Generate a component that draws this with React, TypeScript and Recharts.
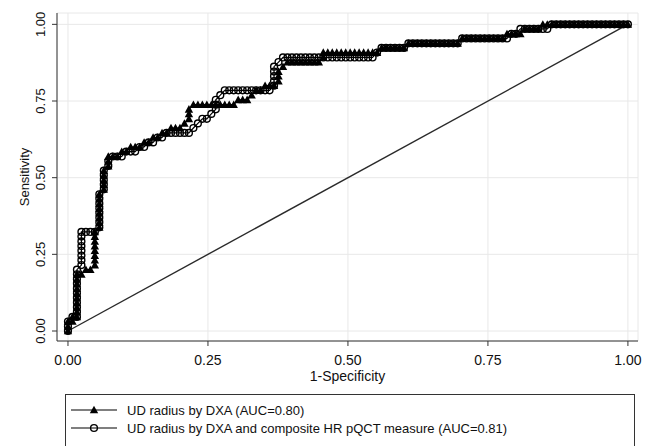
import React from "react";
import {
  ComposedChart,
  Scatter,
  XAxis,
  YAxis,
  CartesianGrid,
  ReferenceLine,
} from "recharts";

const FONT = '"Liberation Sans", Arial, Helvetica, sans-serif';

const xTicks = [0, 0.25, 0.5, 0.75, 1];
const yTicks = [0, 0.25, 0.5, 0.75, 1];
const xTitle = "1-Specificity";
const yTitle = "Sensitivity";
const legendLabels = [
  "UD radius by DXA (AUC=0.80)",
  "UD radius by DXA and composite HR pQCT measure (AUC=0.81)",
];
const diagonalPoints = [
  { x: 0, y: 0 },
  { x: 1, y: 1 },
];

// ROC: UD radius by DXA (triangles) — [1-specificity, sensitivity]
const dxaRoc: [number, number][] = [
  [0, 0], [0, 0.015], [0, 0.031], [0.008, 0.031], [0.008, 0.046], [0.016, 0.046],
  [0.016, 0.062], [0.016, 0.077], [0.016, 0.092], [0.016, 0.108], [0.016, 0.123], [0.016, 0.138], [0.016, 0.154], [0.016, 0.169], [0.016, 0.185],
  [0.024, 0.185], [0.032, 0.2], [0.04, 0.2],
  [0.048, 0.215], [0.048, 0.231], [0.048, 0.246], [0.048, 0.262], [0.048, 0.277], [0.048, 0.292], [0.048, 0.308], [0.048, 0.323],
  [0.056, 0.338], [0.056, 0.354], [0.056, 0.369], [0.056, 0.385], [0.056, 0.4], [0.056, 0.415], [0.056, 0.431], [0.056, 0.446],
  [0.064, 0.462], [0.064, 0.477], [0.064, 0.492], [0.064, 0.508], [0.064, 0.523],
  [0.072, 0.538], [0.072, 0.554], [0.072, 0.569],
  [0.08, 0.569], [0.088, 0.569], [0.096, 0.585], [0.104, 0.585], [0.112, 0.6], [0.12, 0.6], [0.128, 0.6], [0.136, 0.615], [0.144, 0.615],
  [0.152, 0.631], [0.16, 0.631], [0.168, 0.646], [0.176, 0.646], [0.184, 0.662], [0.192, 0.662], [0.2, 0.662], [0.208, 0.677],
  [0.216, 0.692], [0.216, 0.708], [0.216, 0.723], [0.224, 0.738],
  [0.232, 0.738], [0.24, 0.738], [0.248, 0.738], [0.256, 0.738], [0.264, 0.738], [0.272, 0.738], [0.28, 0.738], [0.288, 0.738], [0.296, 0.738],
  [0.304, 0.754], [0.312, 0.754], [0.32, 0.754], [0.328, 0.769], [0.336, 0.785], [0.344, 0.785], [0.352, 0.8], [0.36, 0.8], [0.368, 0.8],
  [0.376, 0.815], [0.376, 0.831], [0.376, 0.846], [0.384, 0.862], [0.392, 0.877],
  [0.4, 0.877], [0.408, 0.877], [0.416, 0.877], [0.424, 0.877], [0.432, 0.877], [0.44, 0.877], [0.448, 0.877],
  [0.456, 0.892], [0.456, 0.908], [0.464, 0.908], [0.472, 0.908], [0.48, 0.908], [0.488, 0.908], [0.496, 0.908], [0.504, 0.908],
  [0.512, 0.908], [0.52, 0.908], [0.528, 0.908], [0.536, 0.908], [0.544, 0.908], [0.552, 0.908],
  [0.56, 0.923], [0.568, 0.923], [0.576, 0.923], [0.584, 0.923], [0.592, 0.923], [0.6, 0.923],
  [0.608, 0.938], [0.616, 0.938], [0.624, 0.938], [0.632, 0.938], [0.64, 0.938], [0.648, 0.938], [0.656, 0.938], [0.664, 0.938],
  [0.672, 0.938], [0.68, 0.938], [0.688, 0.938], [0.696, 0.938],
  [0.704, 0.954], [0.712, 0.954], [0.72, 0.954], [0.728, 0.954], [0.736, 0.954], [0.744, 0.954], [0.752, 0.954], [0.76, 0.954],
  [0.768, 0.954], [0.776, 0.954],
  [0.784, 0.969], [0.792, 0.969], [0.8, 0.969], [0.808, 0.969],
  [0.816, 0.985], [0.824, 0.985], [0.832, 0.985], [0.84, 0.985],
  [0.848, 1], [0.856, 1], [0.864, 1], [0.872, 1], [0.88, 1], [0.888, 1], [0.896, 1], [0.904, 1], [0.912, 1], [0.92, 1],
  [0.928, 1], [0.936, 1], [0.944, 1], [0.952, 1], [0.96, 1], [0.968, 1], [0.976, 1], [0.984, 1], [0.992, 1], [1, 1],
];

// ROC: UD radius by DXA + composite HR pQCT (circles)
const comboRoc: [number, number][] = [
  [0, 0], [0, 0.015], [0, 0.031], [0.008, 0.046], [0.016, 0.046],
  [0.016, 0.062], [0.016, 0.077], [0.016, 0.092], [0.016, 0.108], [0.016, 0.123], [0.016, 0.138], [0.016, 0.154], [0.016, 0.169], [0.016, 0.185], [0.016, 0.2],
  [0.024, 0.215], [0.024, 0.231], [0.024, 0.246], [0.024, 0.262], [0.024, 0.277], [0.024, 0.292], [0.024, 0.308], [0.024, 0.323],
  [0.032, 0.323], [0.04, 0.323], [0.048, 0.323],
  [0.056, 0.338], [0.056, 0.354], [0.056, 0.369], [0.056, 0.385], [0.056, 0.4], [0.056, 0.415], [0.056, 0.431], [0.056, 0.446],
  [0.064, 0.462], [0.064, 0.477], [0.064, 0.492], [0.064, 0.508], [0.064, 0.523],
  [0.072, 0.538], [0.072, 0.554], [0.08, 0.569], [0.088, 0.569], [0.096, 0.569],
  [0.104, 0.585], [0.112, 0.585], [0.12, 0.585], [0.128, 0.6], [0.136, 0.6], [0.144, 0.615], [0.152, 0.615], [0.16, 0.631], [0.168, 0.631],
  [0.176, 0.646], [0.184, 0.646], [0.192, 0.646], [0.2, 0.646], [0.208, 0.646], [0.216, 0.646],
  [0.224, 0.662], [0.232, 0.677], [0.24, 0.692], [0.248, 0.692], [0.256, 0.708], [0.264, 0.723], [0.264, 0.738], [0.264, 0.754], [0.272, 0.769],
  [0.28, 0.785], [0.288, 0.785], [0.296, 0.785], [0.304, 0.785], [0.312, 0.785], [0.32, 0.785], [0.328, 0.785], [0.336, 0.785],
  [0.344, 0.785], [0.352, 0.785], [0.36, 0.785],
  [0.368, 0.8], [0.368, 0.815], [0.368, 0.831], [0.368, 0.846], [0.368, 0.862], [0.376, 0.877], [0.384, 0.892],
  [0.392, 0.892], [0.4, 0.892], [0.408, 0.892], [0.416, 0.892], [0.424, 0.892], [0.432, 0.892], [0.44, 0.892], [0.448, 0.892],
  [0.456, 0.892], [0.464, 0.892], [0.472, 0.892], [0.48, 0.892], [0.488, 0.892], [0.496, 0.892], [0.504, 0.892], [0.512, 0.892],
  [0.52, 0.892], [0.528, 0.892], [0.536, 0.892], [0.544, 0.892],
  [0.552, 0.908], [0.56, 0.923], [0.568, 0.923], [0.576, 0.923], [0.584, 0.923], [0.592, 0.923], [0.6, 0.923],
  [0.608, 0.938], [0.616, 0.938], [0.624, 0.938], [0.632, 0.938], [0.64, 0.938], [0.648, 0.938], [0.656, 0.938], [0.664, 0.938],
  [0.672, 0.938], [0.68, 0.938], [0.688, 0.938], [0.696, 0.938],
  [0.704, 0.954], [0.712, 0.954], [0.72, 0.954], [0.728, 0.954], [0.736, 0.954], [0.744, 0.954], [0.752, 0.954], [0.76, 0.954],
  [0.768, 0.954], [0.776, 0.954], [0.784, 0.954],
  [0.792, 0.969], [0.8, 0.969],
  [0.808, 0.985], [0.816, 0.985], [0.824, 0.985], [0.832, 0.985], [0.84, 0.985], [0.848, 0.985], [0.856, 0.985],
  [0.864, 1], [0.872, 1], [0.88, 1], [0.888, 1], [0.896, 1], [0.904, 1], [0.912, 1], [0.92, 1], [0.928, 1], [0.936, 1],
  [0.944, 1], [0.952, 1], [0.96, 1], [0.968, 1], [0.976, 1], [0.984, 1], [0.992, 1], [1, 1],
];

const toPoints = (rows: [number, number][]) => rows.map(([x, y]) => ({ x, y }));

const AXIS = "#333";
const INK = "#111";

function TriangleMark({ cx, cy }: { cx?: number; cy?: number }) {
  if (cx == null || cy == null) return null;
  const s = 4.2;
  return (
    <path
      d={`M${cx},${cy - s} L${cx + s},${cy + s * 0.8} L${cx - s},${cy + s * 0.8} Z`}
      fill="#000"
    />
  );
}

function CircleMark({ cx, cy }: { cx?: number; cy?: number }) {
  if (cx == null || cy == null) return null;
  return <circle cx={cx} cy={cy} r={3.4} fill="none" stroke="#000" strokeWidth={1.4} />;
}

function XTick({ x, y, payload }: any) {
  return (
    <text x={x} y={y + 17} textAnchor="middle" fontSize={14} fontFamily={FONT} fill={INK}>
      {Number(payload.value).toFixed(2)}
    </text>
  );
}

function YTick({ x, y, payload }: any) {
  const bx = x - 5;
  return (
    <text
      x={bx}
      y={y}
      transform={`rotate(-90 ${bx} ${y})`}
      textAnchor="middle"
      fontSize={13}
      fontFamily={FONT}
      fill={INK}
    >
      {Number(payload.value).toFixed(2)}
    </text>
  );
}

function LegendRow({ label, mark, top }: { label: string; mark: "tri" | "circ"; top: number }) {
  return (
    <div style={{ position: "absolute", left: 0, top, height: 18, display: "flex", alignItems: "center" }}>
      <svg width={60} height={18} style={{ display: "block" }}>
        <line x1={5} y1={9} x2={51} y2={9} stroke="#000" strokeWidth={1.2} />
        {mark === "tri" ? <TriangleMark cx={28} cy={9} /> : <CircleMark cx={28} cy={9} />}
      </svg>
      <span style={{ fontSize: 13, color: INK, whiteSpace: "nowrap", marginLeft: 1 }}>{label}</span>
    </div>
  );
}

export default function App() {
  const dxa = toPoints(dxaRoc);
  const combo = toPoints(comboRoc);

  return (
    <div
      style={{
        position: "absolute",
        left: 0,
        top: 0,
        width: 646,
        height: 446,
        overflow: "hidden",
        background: "#fff",
        fontFamily: FONT,
      }}
    >
      <ComposedChart width={646} height={446} margin={{ top: 13, right: 8, bottom: 0, left: 0 }}>
        <CartesianGrid stroke="#e8e8e8" strokeWidth={1} />
        <XAxis
          type="number"
          dataKey="x"
          domain={[-0.0196, 1.018]}
          ticks={xTicks}
          allowDataOverflow
          height={105}
          tick={<XTick />}
          tickSize={5}
          tickLine={{ stroke: AXIS }}
          axisLine={{ stroke: AXIS }}
          label={{
            value: xTitle,
            position: "insideTop",
            offset: 30,
            style: { fontSize: 14, fill: INK, fontFamily: FONT },
          }}
        />
        <YAxis
          type="number"
          dataKey="y"
          domain={[-0.0326, 1.037]}
          ticks={yTicks}
          allowDataOverflow
          width={57}
          tick={<YTick />}
          tickSize={5}
          tickLine={{ stroke: AXIS }}
          axisLine={{ stroke: AXIS }}
          label={{
            value: yTitle,
            angle: -90,
            position: "insideLeft",
            offset: 24,
            style: { fontSize: 13, fill: INK, fontFamily: FONT, textAnchor: "middle" },
          }}
        />
        <ReferenceLine
          segment={diagonalPoints}
          stroke="#2a2a2a"
          strokeWidth={1.4}
          ifOverflow="visible"
        />
        <Scatter
          data={dxa}
          line={{ stroke: "#000", strokeWidth: 1.2 }}
          lineType="joint"
          shape={(p: any) => <TriangleMark cx={p.cx} cy={p.cy} />}
          isAnimationActive={false}
        />
        <Scatter
          data={combo}
          line={{ stroke: "#000", strokeWidth: 1.2 }}
          lineType="joint"
          shape={(p: any) => <CircleMark cx={p.cx} cy={p.cy} />}
          isAnimationActive={false}
        />
      </ComposedChart>
      <div
        style={{
          position: "absolute",
          left: 65,
          top: 394,
          width: 570,
          height: 80,
          border: `1px solid ${AXIS}`,
          boxSizing: "border-box",
        }}
      >
        <LegendRow label={legendLabels[0]} mark="tri" top={6} />
        <LegendRow label={legendLabels[1]} mark="circ" top={24} />
      </div>
    </div>
  );
}
